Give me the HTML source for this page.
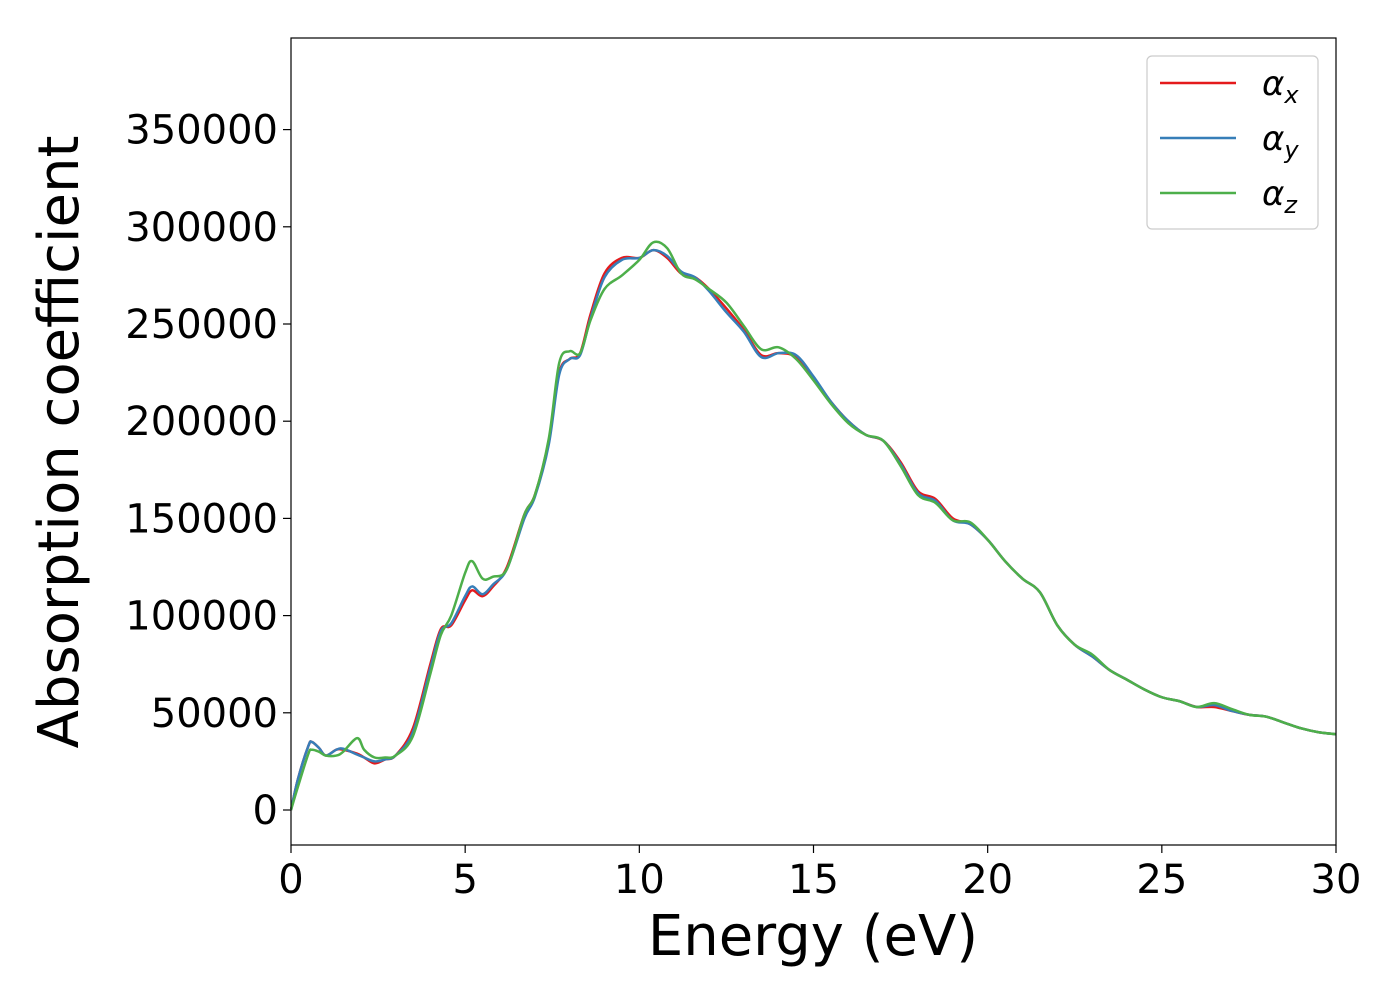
<!DOCTYPE html>
<html><head><meta charset="utf-8"><style>body{margin:0;background:#fff}svg text{font-family:"DejaVu Sans","Liberation Sans",sans-serif}</style></head>
<body>
<svg id="chart" width="1400" height="1000" xmlns="http://www.w3.org/2000/svg">
<rect x="291" y="38" width="1045" height="807" fill="#fff" stroke="none"/>
<g id="ticks"></g>
<g id="lines"></g>
<rect x="291" y="38" width="1045" height="807" fill="none" stroke="#000" stroke-width="1.2"/>
<text x="813" y="955" font-size="56" text-anchor="middle">Energy (eV)</text>
<text transform="translate(78,442) rotate(-90)" font-size="56" text-anchor="middle">Absorption coefficient</text>
<g>
<rect x="1147" y="56" width="171" height="173" rx="5" fill="#fff" stroke="#ccc" stroke-width="1.2"/>
<line x1="1160" y1="83" x2="1236" y2="83" stroke="#e41a1c" stroke-width="2.5"/>
<line x1="1160" y1="138" x2="1236" y2="138" stroke="#377eb8" stroke-width="2.5"/>
<line x1="1160" y1="193" x2="1236" y2="193" stroke="#4daf4a" stroke-width="2.5"/>
<text x="1262" y="95" font-size="34" font-style="italic">α<tspan font-size="24" dy="8">x</tspan></text>
<text x="1262" y="150" font-size="34" font-style="italic">α<tspan font-size="24" dy="8">y</tspan></text>
<text x="1262" y="205" font-size="34" font-style="italic">α<tspan font-size="24" dy="8">z</tspan></text>
</g>
</svg>
<script>
const energy=[0,0.2,0.5,0.6,0.8,1.0,1.3,1.5,1.9,2.1,2.4,2.7,3.0,3.5,4.0,4.3,4.6,5.0,5.2,5.5,5.8,6.2,6.7,7.0,7.4,7.7,8.0,8.3,8.6,9.0,9.5,10,10.4,10.8,11.2,11.6,12,12.5,13,13.5,14,14.5,15,15.5,16,16.5,17,17.5,18,18.5,19,19.5,20,20.5,21,21.5,22,22.5,23,23.5,24,24.5,25,25.5,26,26.5,27,27.5,28,28.5,29,29.5,30];
const alphaX=[0,16000,33000,35000,32000,28000,31000,31000,29000,27000,24000,26000,28000,42000,75000,93000,95000,108000,113000,110000,115000,125000,152000,162000,190000,225000,232000,235000,255000,276000,284000,284000,288000,284000,276000,274000,268000,258000,247000,234000,235000,233000,222000,210000,200000,193000,190000,179000,164000,160000,150000,147000,139000,128000,119000,112000,95000,85000,79000,72000,67000,62000,58000,56000,53000,53000,51000,49000,48000,45000,42000,40000,39000];
const alphaY=[0,16000,33000,35000,32000,28000,31000,31500,28500,27000,25000,26000,28000,40000,73000,92000,96000,110000,115000,111000,116000,124000,150000,161000,188000,224000,232000,234000,253000,274000,283000,284000,288000,285000,277000,274000,267000,256000,246000,233000,235000,234000,223000,210000,200000,193000,190000,178000,163000,159000,149000,147000,139000,128000,119000,112000,95000,85000,79000,72000,67000,62000,58000,56000,53000,54000,51000,49000,48000,45000,42000,40000,39000];
const alphaZ=[0,12000,29000,31000,30000,28000,28000,30000,37000,31000,27000,27000,28000,38000,70000,90000,100000,122000,128000,119000,120000,124000,152000,162000,191000,230000,236000,235000,252000,268000,275000,283000,292000,289000,276000,273000,268000,261000,249000,237000,238000,232000,221000,209000,199000,193000,190000,177000,162000,158000,149000,148000,139000,128000,119000,112000,95000,85000,80000,72000,67000,62000,58000,56000,53000,55000,52000,49000,48000,45000,42000,40000,39000];
const xTicks=[0,5,10,15,20,25,30];
const yTicks=[0,50000,100000,150000,200000,250000,300000,350000];
const X=v=>291+v*(1045/30);
const Y=v=>810-v*(97.2/50000);
const NS="http://www.w3.org/2000/svg";
const tg=document.getElementById('ticks');
function mk(t,a,p){const e=document.createElementNS(NS,t);for(const k in a)e.setAttribute(k,a[k]);p.appendChild(e);return e;}
xTicks.forEach(t=>{const x=X(t);
const l=mk('line',{x1:x,x2:x,y1:845,y2:853,stroke:'#000','stroke-width':1.2},tg);


const s=mk('text',{x:x,y:893,'font-size':40,'text-anchor':'middle'},tg);s.textContent=t;

});
yTicks.forEach(t=>{const y=Y(t);
const l=mk('line',{x1:283,x2:291,y1:y,y2:y,stroke:'#000','stroke-width':1.2},tg);


const s=mk('text',{x:278,y:y+14,'font-size':40,'text-anchor':'end'},tg);s.textContent=t;

});
function path(xs,ys){const p=xs.map((x,i)=>[X(x),Y(ys[i])]);let d='M'+p[0][0]+','+p[0][1];
for(let i=0;i<p.length-1;i++){const p0=p[Math.max(0,i-1)],p1=p[i],p2=p[i+1],p3=p[Math.min(p.length-1,i+2)];
d+=' C'+(p1[0]+(p2[0]-p0[0])/6)+','+(p1[1]+(p2[1]-p0[1])/6)+' '+(p2[0]-(p3[0]-p1[0])/6)+','+(p2[1]-(p3[1]-p1[1])/6)+' '+p2[0]+','+p2[1];}return d;}
const lg=document.getElementById('lines');
[[alphaX,'#e41a1c','series-alpha-x'],[alphaY,'#377eb8','series-alpha-y'],[alphaZ,'#4daf4a','series-alpha-z']].forEach(s=>{
const e=mk('path',{d:path(energy,s[0]),fill:'none',stroke:s[1],'stroke-width':2.5},lg);

});
</script>
</body></html>
